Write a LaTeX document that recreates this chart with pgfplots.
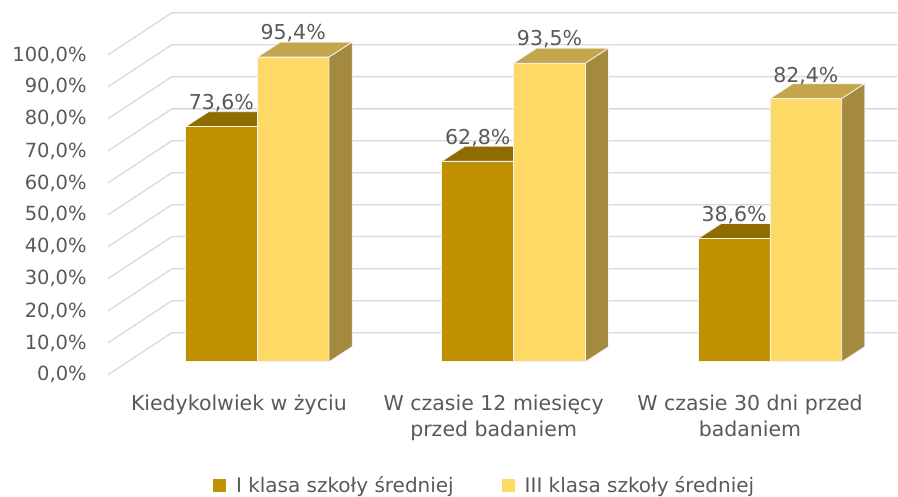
\documentclass[border=0pt]{standalone}
\usepackage{pgfplots}
\usepackage{pgfplotstable}
\pgfplotsset{compat=1.18}
\usepackage{fontspec}
\setmainfont{DejaVu Sans}
\definecolor{darkfront}{HTML}{BF9000}
\definecolor{darktop}{HTML}{8F6C00}
\definecolor{lightfront}{HTML}{FFD966}
\definecolor{lighttop}{HTML}{C4A54B}
\definecolor{lightside}{HTML}{A48A3F}
\definecolor{gridc}{HTML}{D9D9D9}
\definecolor{txt}{HTML}{595959}
\definecolor{edge}{HTML}{F2F2F2}
\pgfplotsset{sq/.style={legend image code/.code={\fill[##1,draw=none] (0pt,-6.5pt) rectangle (13pt,6.5pt);}}}
\pgfplotstableread{
x dark light
0 73.6 95.4
1 62.8 93.5
2 38.6 82.4
}\datatable
\newcommand{\lblfont}{\fontsize{20.5}{25}\selectfont}
\newcommand{\tickfont}{\fontsize{19.5}{24}\selectfont}
\begin{document}
\begin{tikzpicture}
\begin{axis}[
 width=898pt, height=497pt, scale only axis,
 xmin=-1.0039, xmax=2.4971, ymin=-42.25, ymax=113.3,
 axis line style={draw=none}, ticks=none, clip=false,
 unbounded coords=jump,
 legend columns=2,
 legend style={at={(rel axis cs:0.2372,0.0221)}, anchor=west, draw=none, fill=none, inner sep=0pt,
   font=\fontsize{20}{24}\selectfont, text=txt,
   /tikz/every odd column/.append style={column sep=8pt},
   /tikz/every even column/.append style={column sep=46pt}},
 legend cell align=left,
]
% invisible frame
\addplot[draw=none, forget plot] coordinates {(-1.0039,-42.25) (2.4971,113.3)};
% floor diagonals and back wall grid lines
\addplot[gridc, line width=1.3pt, forget plot] coordinates {
(-0.583,-4.1) (-0.333,9.1) (2.4971,9.1) (nan,nan)
(-0.583,5.9) (-0.333,19.1) (2.4971,19.1) (nan,nan)
(-0.583,15.9) (-0.333,29.1) (2.4971,29.1) (nan,nan)
(-0.583,26.0) (-0.333,39.2) (2.4971,39.2) (nan,nan)
(-0.583,36.0) (-0.333,49.2) (2.4971,49.2) (nan,nan)
(-0.583,46.0) (-0.333,59.2) (2.4971,59.2) (nan,nan)
(-0.583,56.0) (-0.333,69.2) (2.4971,69.2) (nan,nan)
(-0.583,66.0) (-0.333,79.2) (2.4971,79.2) (nan,nan)
(-0.583,76.1) (-0.333,89.3) (2.4971,89.3) (nan,nan)
(-0.583,86.1) (-0.333,99.3) (2.4971,99.3) (nan,nan)
(-0.583,96.1) (-0.333,109.3) (2.4971,109.3)
};
% dark bar tops
\addplot[fill=darktop, draw=edge, line width=0.8pt, forget plot] coordinates {(-0.28,73.6) (0,73.6) (0.09,78.3) (-0.19,78.3)} --cycle;
\addplot[fill=darktop, draw=edge, line width=0.8pt, forget plot] coordinates {(0.72,62.8) (1,62.8) (1.09,67.5) (0.81,67.5)} --cycle;
\addplot[fill=darktop, draw=edge, line width=0.8pt, forget plot] coordinates {(1.72,38.6) (2,38.6) (2.09,43.3) (1.81,43.3)} --cycle;
% fronts
\addplot[ybar, bar width=0.28, bar shift=-0.14, fill=darkfront, draw=edge, line width=0.8pt, sq] table[x=x,y=dark]{\datatable};
\addlegendentry{I klasa szkoły średniej}
\addplot[ybar, bar width=0.28, bar shift=0.14, fill=lightfront, draw=edge, line width=0.8pt, sq] table[x=x,y=light]{\datatable};
\addlegendentry{III klasa szkoły średniej}
% light tops
\addplot[fill=lighttop, draw=edge, line width=0.8pt, forget plot] coordinates {(0,95.4) (0.28,95.4) (0.37,100.1) (0.09,100.1)} --cycle;
\addplot[fill=lighttop, draw=edge, line width=0.8pt, forget plot] coordinates {(1,93.5) (1.28,93.5) (1.37,98.2) (1.09,98.2)} --cycle;
\addplot[fill=lighttop, draw=edge, line width=0.8pt, forget plot] coordinates {(2,82.4) (2.28,82.4) (2.37,87.1) (2.09,87.1)} --cycle;
% light sides
\addplot[fill=lightside, draw=edge, line width=0.8pt, forget plot] coordinates {(0.28,0) (0.37,4.7) (0.37,100.1) (0.28,95.4)} --cycle;
\addplot[fill=lightside, draw=edge, line width=0.8pt, forget plot] coordinates {(1.28,0) (1.37,4.7) (1.37,98.2) (1.28,93.5)} --cycle;
\addplot[fill=lightside, draw=edge, line width=0.8pt, forget plot] coordinates {(2.28,0) (2.37,4.7) (2.37,87.1) (2.28,82.4)} --cycle;
% value labels
\begin{scope}[every node/.style={text=txt, font=\lblfont, inner sep=0pt}]
\node at (axis cs:-0.14,81.0) {73,6\%};
\node at (axis cs:0.14,102.8) {95,4\%};
\node at (axis cs:0.86,70.2) {62,8\%};
\node at (axis cs:1.14,101.2) {93,5\%};
\node at (axis cs:1.86,46.0) {38,6\%};
\node at (axis cs:2.14,89.5) {82,4\%};
\end{scope}
% y tick labels
\begin{scope}[every node/.style={text=txt, font=\tickfont, inner sep=0pt, anchor=east}]
\node at (axis cs:-0.665,-4.1) {0,0\%};
\node at (axis cs:-0.665,5.9) {10,0\%};
\node at (axis cs:-0.665,15.9) {20,0\%};
\node at (axis cs:-0.665,26.0) {30,0\%};
\node at (axis cs:-0.665,36.0) {40,0\%};
\node at (axis cs:-0.665,46.0) {50,0\%};
\node at (axis cs:-0.665,56.0) {60,0\%};
\node at (axis cs:-0.665,66.0) {70,0\%};
\node at (axis cs:-0.665,76.1) {80,0\%};
\node at (axis cs:-0.665,86.1) {90,0\%};
\node at (axis cs:-0.665,96.1) {100,0\%};
\end{scope}
% category labels
\begin{scope}[every node/.style={text=txt, font=\lblfont, inner sep=0pt, anchor=base}]
\node at (axis cs:-0.072,-15.3) {Kiedykolwiek w życiu};
\node at (axis cs:0.922,-15.3) {W czasie 12 miesięcy};
\node at (axis cs:0.922,-23.5) {przed badaniem};
\node at (axis cs:1.922,-15.3) {W czasie 30 dni przed};
\node at (axis cs:1.922,-23.5) {badaniem};
\end{scope}
\end{axis}
\end{tikzpicture}
\end{document}
